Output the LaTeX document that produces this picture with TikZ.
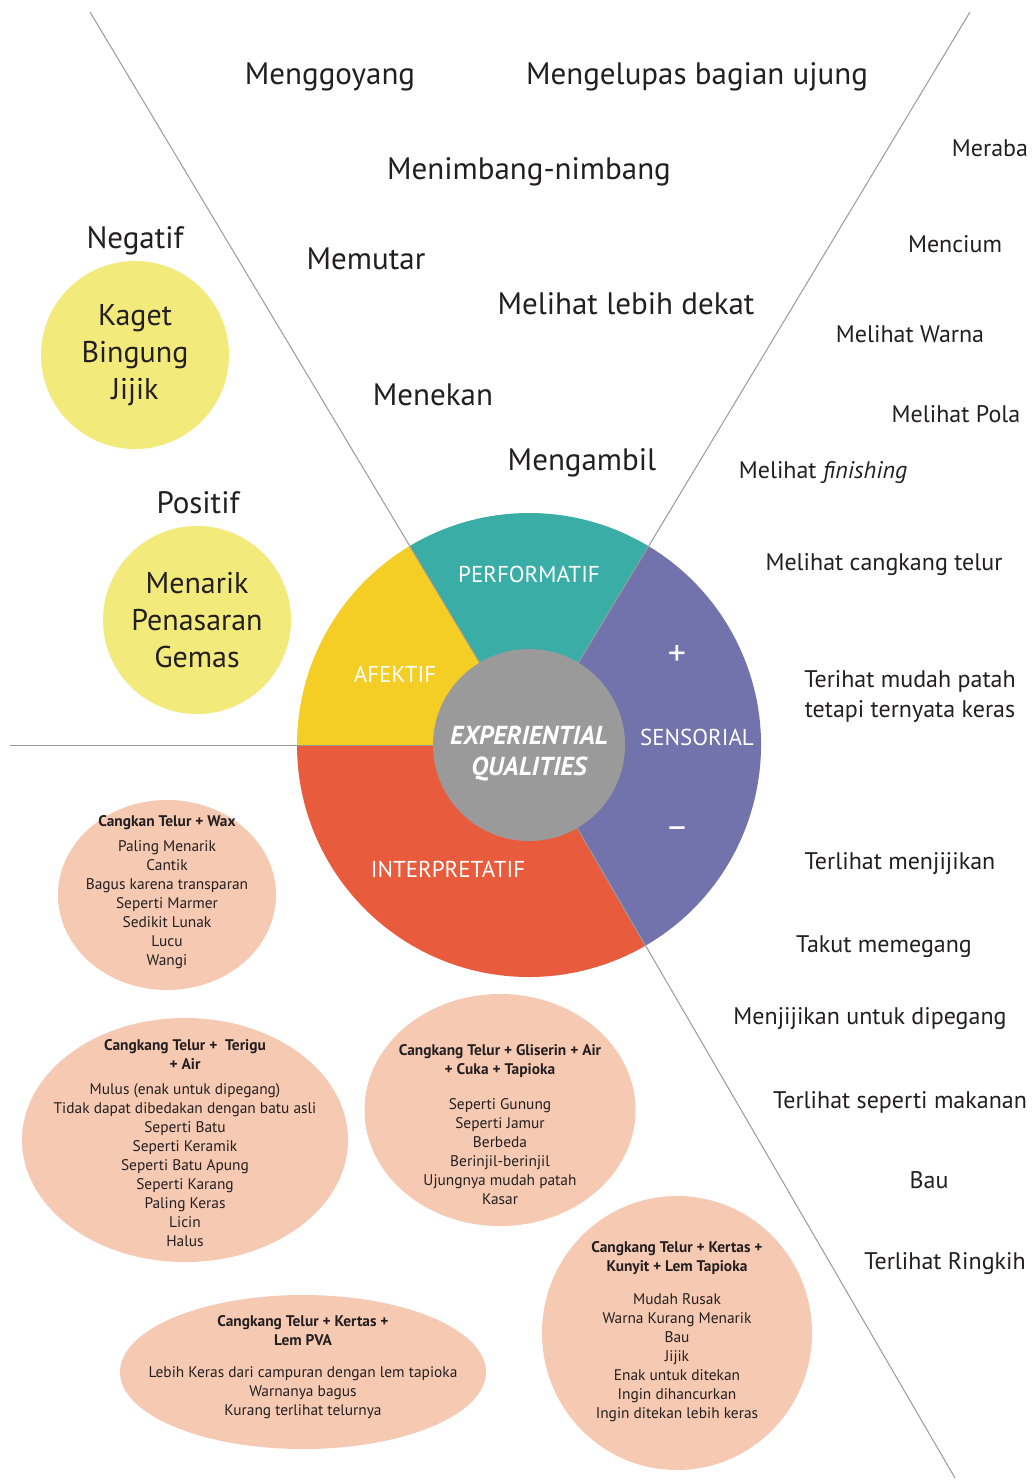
\documentclass[tikz,border=0pt]{standalone}
\usepackage{fontspec}
\setmainfont{PT Sans}
\usetikzlibrary{shapes.geometric, positioning, calc}

\definecolor{inkgray}{HTML}{231F20}
\definecolor{perfteal}{HTML}{3AAEA6}
\definecolor{afekyellow}{HTML}{F4CE24}
\definecolor{interred}{HTML}{E85C3D}
\definecolor{senspurple}{HTML}{7272AD}
\definecolor{coregray}{HTML}{9A9A9A}
\definecolor{moodyellow}{HTML}{F3EA7C}
\definecolor{samplepink}{HTML}{F6C9B3}

\begin{document}
\begin{tikzpicture}[
    x=1pt, y=-1pt,
    act/.style={font=\fontsize{31}{36}\selectfont, text=inkgray},
    sense/.style={font=\fontsize{24}{30}\selectfont, text=inkgray, align=center},
    mood/.style={circle, fill=moodyellow, minimum size=188pt, inner sep=0pt,
                 align=center, font=\fontsize{30}{37}\selectfont, text=inkgray},
    moodhead/.style={font=\fontsize{31}{36}\selectfont, text=inkgray},
    part/.style={font=\fontsize{23}{26}\selectfont, text=white},
    sample/.style={ellipse, fill=samplepink, inner sep=0pt},
    note/.style={align=center, font=\fontsize{15.4}{19}\selectfont, text=inkgray},
    divider/.style={gray!80, line width=1pt},
]
    \useasboundingbox[fill=white] (0,0) rectangle (1032,1481);

    % Pie
    \coordinate (c) at (529,745);
    \fill[perfteal] (c) -- ++(-59:232) arc[start angle=-59, end angle=-121, radius=232] -- cycle;
    \fill[afekyellow] (c) -- ++(-121:232) arc[start angle=-121, end angle=-180, radius=232] -- cycle;
    \fill[interred] (c) -- ++(-180:232) arc[start angle=-180, end angle=-300, radius=232] -- cycle;
    \fill[senspurple] (c) -- ++(60:232) arc[start angle=60, end angle=-59, radius=232] -- cycle;

    % Dividers
    \coordinate (tl) at (90,12);
    \coordinate (tr) at (970,12);
    \coordinate (br) at (955,1478);
    \coordinate (lf) at (10,745);
    \draw[divider] (c) -- (tl);
    \draw[divider] (c) -- (tr);
    \draw[divider] (c) -- (br);
    \draw[divider] (c) -- (lf);

    % Core
    \node[circle, fill=coregray, minimum size=192pt, inner sep=0pt] (core) at (c) {};
    \node[align=center, text=white, font=\bfseries\itshape\fontsize{26}{31}\selectfont]
        (coretext) at ($(core)+(0,9)$) {EXPERIENTIAL\\QUALITIES};

    % Sector labels
    \node[part] (perf) at (529,574) {PERFORMATIF};
    \node[part] (afek) at (395,674) {AFEKTIF};
    \node[part] (sens) at (697,737) {SENSORIAL};
    \node[part] (inter) at (448,869) {INTERPRETATIF};
    \node[part, font=\fontsize{36}{36}\selectfont] (plus) at (677,655) {+};
    \node[part, font=\fontsize{36}{36}\selectfont] (minus) at (677,833) {–};

    % Performatif actions
    \node[act] (goyang) at (330,77) {Menggoyang};
    \node[act] (kupas) at (697,77) {Mengelupas bagian ujung};
    \node[act] (timbang) at (529,172) {Menimbang-nimbang};
    \node[act] (putar) at (366,259) {Memutar};
    \node[act] (dekat) at (626,304) {Melihat lebih dekat};
    \node[act] (tekan) at (433,395) {Menekan};
    \node[act] (ambil) at (582,463) {Mengambil};

    % Sensorial, positive
    \node[sense] (raba) at (990,148) {Meraba};
    \node[sense] (cium) at (955,244) {Mencium};
    \node[sense] (warna) at (910,334) {Melihat Warna};
    \node[sense] (pola) at (956,414) {Melihat Pola};
    \node[sense] (finish) at (823,473) {Melihat \textit{finishing}};
    \node[sense] (cangkang) at (884,565) {Melihat cangkang telur};
    \node[sense] (patah) at (910,696) {Terihat mudah patah\\tetapi ternyata keras};

    % Sensorial, negative
    \node[sense] (jijik) at (900,864) {Terlihat menjijikan};
    \node[sense] (takut) at (884,947) {Takut memegang};
    \node[sense] (pegang) at (870,1019) {Menjijikan untuk dipegang};
    \node[sense] (makanan) at (900,1102) {Terlihat seperti makanan};
    \node[sense] (bau) at (929,1180) {Bau};
    \node[sense] (ringkih) at (945,1264) {Terlihat Ringkih};

    % Afektif moods
    \node[moodhead] (negatif) at (135,241) {Negatif};
    \node[mood] (moodneg) at (135,355) {Kaget\\Bingung\\Jijik};
    \node[moodhead] (positif) at (198,503) {Positif};
    \node[mood] (moodpos) at (197,620) {Menarik\\Penasaran\\Gemas};

    % Interpretatif samples
    \node[sample, minimum width=218pt, minimum height=190pt] (wax) at (167,895) {};
    \node[note] at ($(wax)+(0,-3)$) {\textbf{Cangkan Telur + Wax}\\[6pt]
        Paling Menarik\\Cantik\\Bagus karena transparan\\Seperti Marmer\\
        Sedikit Lunak\\Lucu\\Wangi};

    \node[sample, minimum width=326pt, minimum height=244pt] (terigu) at (185,1140) {};
    \node[note] at ($(terigu)+(0,3)$) {\textbf{Cangkang Telur +\ \ Terigu}\\\textbf{+ Air}\\[6pt]
        Mulus (enak untuk dipegang)\\Tidak dapat dibedakan dengan batu asli\\
        Seperti Batu\\Seperti Keramik\\Seperti Batu Apung\\Seperti Karang\\
        Paling Keras\\Licin\\Halus};

    \node[sample, minimum width=271pt, minimum height=232pt] (gliserin) at (500,1110) {};
    \node[note] at ($(gliserin)+(0,15)$) {\textbf{Cangkang Telur + Gliserin + Air}\\\textbf{+ Cuka + Tapioka}\\[16pt]
        Seperti Gunung\\Seperti Jamur\\Berbeda\\Berinjil-berinjil\\
        Ujungnya mudah patah\\Kasar};

    \node[sample, minimum width=366pt, minimum height=154pt] (pva) at (303,1372) {};
    \node[note] at ($(pva)+(0,-5)$) {\textbf{Cangkang Telur + Kertas +}\\\textbf{Lem PVA}\\[13pt]
        Lebih Keras dari campuran dengan lem tapioka\\Warnanya bagus\\
        Kurang terlihat telurnya};

    \node[sample, minimum width=270pt, minimum height=274pt] (kunyit) at (677,1333) {};
    \node[note] at ($(kunyit)+(0,-1)$) {\textbf{Cangkang Telur + Kertas +}\\\textbf{Kunyit + Lem Tapioka}\\[14pt]
        Mudah Rusak\\Warna Kurang Menarik\\Bau\\Jijik\\
        Enak untuk ditekan\\Ingin dihancurkan\\Ingin ditekan lebih keras};
\end{tikzpicture}
\end{document}
